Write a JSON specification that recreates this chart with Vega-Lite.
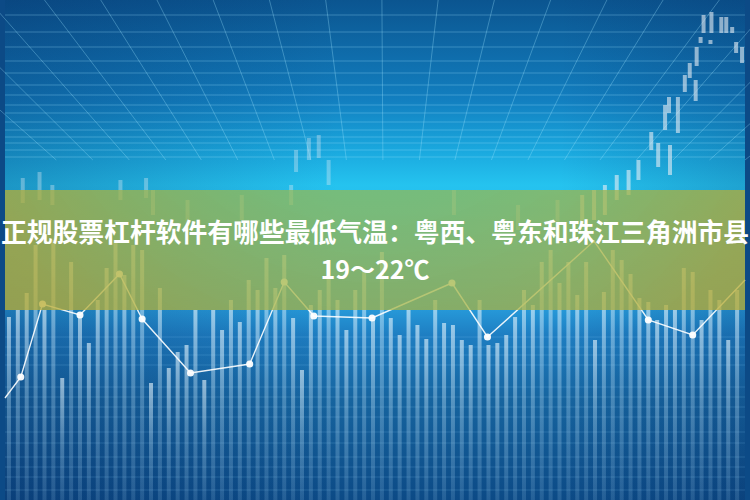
{
  "$schema": "https://vega.github.io/schema/vega-lite/v6.json",
  "width": 750,
  "height": 500,
  "padding": 0,
  "autosize": {"type": "fit", "contains": "padding"},
  "background": "#0c4a86",
  "config": {"view": {"stroke": null}},
  "datasets": {
    "hgrid": [{"y":15},{"y":32},{"y":47},{"y":61},{"y":73},{"y":85},{"y":95},{"y":105},{"y":113},{"y":122},{"y":130},{"y":137},{"y":143},{"y":150},{"y":157}],
    "fan": [
      {"xt":-131,"xb":52},{"xt":-74,"xb":89},{"xt":-17,"xb":126},{"xt":40,"xb":163},{"xt":97,"xb":199},{"xt":154,"xb":236},{"xt":211,"xb":273},{"xt":268,"xb":310},{"xt":325,"xb":346},{"xt":382,"xb":383},{"xt":439,"xb":420},{"xt":496,"xb":456},{"xt":553,"xb":493},{"xt":610,"xb":530},{"xt":667,"xb":567},{"xt":724,"xb":603},{"xt":781,"xb":640},{"xt":838,"xb":677},{"xt":895,"xb":714},{"xt":952,"xb":750}
    ],
    "lowgrid": [{"y":337},{"y":347},{"y":355},{"y":365},{"y":387},{"y":397},{"y":407},{"y":417},{"y":432},{"y":443},{"y":457},{"y":467},{"y":477},{"y":490}],
    "candles": [
      {"t":708,"hi":15,"lo":33},{"t":716,"hi":12,"lo":33},{"t":726,"hi":17,"lo":33},{"t":731,"hi":17,"lo":33},{"t":737,"hi":27,"lo":33},
      {"t":705,"hi":37,"lo":43},{"t":715,"hi":40,"lo":44},{"t":741,"hi":42,"lo":53},{"t":747,"hi":47,"lo":63},{"t":701,"hi":47,"lo":66},
      {"t":694,"hi":63,"lo":78},{"t":689,"hi":75,"lo":92},{"t":700,"hi":80,"lo":101},{"t":682,"hi":97,"lo":133},{"t":673,"hi":97,"lo":113},
      {"t":669,"hi":105,"lo":130},{"t":655,"hi":132,"lo":150},{"t":662,"hi":143,"lo":167},{"t":674,"hi":145,"lo":175},{"t":642,"hi":160,"lo":180},
      {"t":632,"hi":170,"lo":195},{"t":620,"hi":175,"lo":200},{"t":608,"hi":185,"lo":215},{"t":597,"hi":190,"lo":220},{"t":585,"hi":195,"lo":225}
    ],
    "faintcandles": [
      {"t":295,"hi":150,"lo":172},{"t":308,"hi":138,"lo":160},{"t":318,"hi":135,"lo":158},{"t":328,"hi":160,"lo":185},{"t":290,"hi":185,"lo":205},
      {"t":18,"hi":178,"lo":203},{"t":35,"hi":172,"lo":200},{"t":48,"hi":185,"lo":205},{"t":117,"hi":180,"lo":200},{"t":143,"hi":178,"lo":198},{"t":150,"hi":190,"lo":215},
      {"t":185,"hi":200,"lo":225},{"t":240,"hi":195,"lo":220},{"t":455,"hi":190,"lo":215},{"t":520,"hi":205,"lo":230},{"t":560,"hi":200,"lo":235}
    ],
    "bars": [
      {"x":4,"top":317},{"x":13,"top":310},{"x":22,"top":293},{"x":31,"top":245},{"x":40,"top":310},{"x":49,"top":240},{"x":58,"top":378},{"x":67,"top":262},{"x":76,"top":317},{"x":85,"top":343},
      {"x":94,"top":300},{"x":103,"top":268},{"x":112,"top":240},{"x":121,"top":275},{"x":130,"top":245},{"x":139,"top":250},{"x":148,"top":383},{"x":157,"top":288},{"x":166,"top":368},{"x":175,"top":352},
      {"x":184,"top":345},{"x":193,"top":310},{"x":202,"top":380},{"x":211,"top":310},{"x":220,"top":330},{"x":229,"top":300},{"x":238,"top":322},{"x":247,"top":280},{"x":256,"top":290},{"x":265,"top":258},
      {"x":274,"top":288},{"x":283,"top":255},{"x":292,"top":318},{"x":301,"top":370},{"x":310,"top":305},{"x":319,"top":290},{"x":328,"top":260},{"x":337,"top":300},{"x":346,"top":330},{"x":355,"top":290},
      {"x":364,"top":270},{"x":373,"top":320},{"x":382,"top":252},{"x":391,"top":318},{"x":400,"top":335},{"x":409,"top":310},{"x":418,"top":325},{"x":427,"top":339},{"x":436,"top":300},{"x":445,"top":323},
      {"x":454,"top":325},{"x":463,"top":340},{"x":472,"top":345},{"x":481,"top":300},{"x":490,"top":345},{"x":499,"top":343},{"x":508,"top":335},{"x":517,"top":317},{"x":526,"top":290},{"x":535,"top":305},
      {"x":544,"top":262},{"x":553,"top":250},{"x":562,"top":283},{"x":571,"top":262},{"x":580,"top":295},{"x":589,"top":262},{"x":598,"top":340},{"x":607,"top":292},{"x":616,"top":250},{"x":625,"top":260},
      {"x":634,"top":274},{"x":643,"top":298},{"x":652,"top":302},{"x":661,"top":320},{"x":670,"top":305},{"x":679,"top":310},{"x":688,"top":268},{"x":697,"top":272},{"x":706,"top":320},{"x":715,"top":290},
      {"x":724,"top":300},{"x":733,"top":340},{"x":742,"top":290}
    ],
    "line": [
      {"x":0,"y":398,"dot":false},{"x":16,"y":377,"dot":true},{"x":38,"y":304,"dot":true},{"x":76,"y":315,"dot":true},{"x":116,"y":274,"dot":true},
      {"x":139,"y":319,"dot":true},{"x":188,"y":373,"dot":true},{"x":248,"y":364,"dot":true},{"x":283,"y":282,"dot":true},{"x":313,"y":316,"dot":true},
      {"x":372,"y":318,"dot":true},{"x":453,"y":283,"dot":true},{"x":489,"y":337,"dot":true},{"x":597,"y":241,"dot":false},{"x":652,"y":320,"dot":true},
      {"x":697,"y":335,"dot":true},{"x":750,"y":280,"dot":false}
    ]
  },
  "layer": [
    {
      "data": {"values": [{}]},
      "mark": {"type": "rect", "fill": {"gradient": "linear", "x1": 0, "y1": 0, "x2": 0, "y2": 1, "stops": [
        {"offset": 0, "color": "#0b5590"},
        {"offset": 0.2, "color": "#127fc0"},
        {"offset": 0.3, "color": "#1aa8de"},
        {"offset": 0.37, "color": "#25c3ef"},
        {"offset": 0.5, "color": "#2ab0e6"},
        {"offset": 0.62, "color": "#2698d8"},
        {"offset": 0.67, "color": "#1e7ec2"},
        {"offset": 0.8, "color": "#16649f"},
        {"offset": 1, "color": "#0c4a86"}
      ]}},
      "encoding": {
        "x": {"datum": 0, "type": "quantitative", "scale": {"domain": [0, 750], "nice": false, "zero": false}, "axis": null},
        "x2": {"datum": 750},
        "y": {"datum": 0, "type": "quantitative", "scale": {"domain": [0, 500], "nice": false, "zero": false, "reverse": true}, "axis": null},
        "y2": {"datum": 500}
      }
    },
    {
      "data": {"values": [{}]},
      "mark": {"type": "rect", "fill": {"gradient": "linear", "x1": 0, "y1": 0, "x2": 1, "y2": 0, "stops": [
        {"offset": 0, "color": "rgba(5,35,90,0.28)"},
        {"offset": 0.45, "color": "rgba(5,35,90,0)"},
        {"offset": 0.75, "color": "rgba(5,35,90,0)"},
        {"offset": 1, "color": "rgba(5,35,90,0.2)"}
      ]}},
      "encoding": {
        "x": {"datum": 0, "type": "quantitative", "scale": {"domain": [0, 750], "nice": false, "zero": false}, "axis": null},
        "x2": {"datum": 750},
        "y": {"datum": 0, "type": "quantitative", "scale": {"domain": [0, 500], "nice": false, "zero": false, "reverse": true}, "axis": null},
        "y2": {"datum": 500}
      }
    },
    {
      "data": {"name": "hgrid"},
      "mark": {"type": "rule", "color": "#9fe6ff", "opacity": 0.3, "strokeWidth": 1, "clip": true},
      "encoding": {
        "x": {"datum": 0, "type": "quantitative", "scale": {"domain": [0, 750], "nice": false, "zero": false}, "axis": null},
        "x2": {"datum": 750},
        "y": {"field": "y", "type": "quantitative", "scale": {"domain": [0, 500], "nice": false, "zero": false, "reverse": true}, "axis": null}
      }
    },
    {
      "data": {"name": "fan"},
      "mark": {"type": "rule", "color": "#9fe6ff", "opacity": 0.32, "strokeWidth": 1, "clip": true},
      "encoding": {
        "x": {"field": "xt", "type": "quantitative", "scale": {"domain": [0, 750], "nice": false, "zero": false}, "axis": null},
        "x2": {"field": "xb"},
        "y": {"datum": 0, "type": "quantitative", "scale": {"domain": [0, 500], "nice": false, "zero": false, "reverse": true}, "axis": null},
        "y2": {"datum": 160}
      }
    },
    {
      "data": {"name": "lowgrid"},
      "mark": {"type": "rule", "color": "#8fd0ff", "opacity": 0.18, "strokeWidth": 1, "clip": true},
      "encoding": {
        "x": {"datum": 0, "type": "quantitative", "scale": {"domain": [0, 750], "nice": false, "zero": false}, "axis": null},
        "x2": {"datum": 750},
        "y": {"field": "y", "type": "quantitative", "scale": {"domain": [0, 500], "nice": false, "zero": false, "reverse": true}, "axis": null}
      }
    },
    {
      "data": {"name": "candles"},
      "mark": {"type": "bar", "size": 4, "color": "#e8eef5", "opacity": 0.6, "clip": true},
      "encoding": {
        "x": {"field": "t", "type": "quantitative", "scale": {"domain": [0, 750], "nice": false, "zero": false}, "axis": null},
        "y": {"field": "hi", "type": "quantitative", "scale": {"domain": [0, 500], "nice": false, "zero": false, "reverse": true}, "axis": null},
        "y2": {"field": "lo"}
      }
    },
    {
      "data": {"name": "faintcandles"},
      "mark": {"type": "bar", "size": 4, "color": "#e8eef5", "opacity": 0.35, "clip": true},
      "encoding": {
        "x": {"field": "t", "type": "quantitative", "scale": {"domain": [0, 750], "nice": false, "zero": false}, "axis": null},
        "y": {"field": "hi", "type": "quantitative", "scale": {"domain": [0, 500], "nice": false, "zero": false, "reverse": true}, "axis": null},
        "y2": {"field": "lo"}
      }
    },
    {
      "data": {"name": "bars"},
      "mark": {"type": "bar", "size": 4, "clip": true, "fill": {"gradient": "linear", "x1": 0, "y1": 0, "x2": 0, "y2": 1, "stops": [
        {"offset": 0, "color": "rgba(235,248,255,0.6)"},
        {"offset": 0.5, "color": "rgba(200,235,255,0.32)"},
        {"offset": 1, "color": "rgba(180,225,255,0.15)"}
      ]}},
      "encoding": {
        "x": {"field": "x", "type": "quantitative", "scale": {"domain": [0, 750], "nice": false, "zero": false}, "axis": null},
        "y": {"field": "top", "type": "quantitative", "scale": {"domain": [0, 500], "nice": false, "zero": false, "reverse": true}, "axis": null},
        "y2": {"datum": 500}
      }
    },
    {
      "data": {"name": "line"},
      "mark": {"type": "line", "color": "#ffffff", "opacity": 0.9, "strokeWidth": 1.4, "clip": true},
      "encoding": {
        "x": {"field": "x", "type": "quantitative", "scale": {"domain": [0, 750], "nice": false, "zero": false}, "axis": null},
        "y": {"field": "y", "type": "quantitative", "scale": {"domain": [0, 500], "nice": false, "zero": false, "reverse": true}, "axis": null}
      }
    },
    {
      "data": {"name": "line"},
      "transform": [{"filter": "datum.dot"}],
      "mark": {"type": "point", "filled": true, "color": "#ffffff", "opacity": 0.95, "size": 50, "clip": true},
      "encoding": {
        "x": {"field": "x", "type": "quantitative", "scale": {"domain": [0, 750], "nice": false, "zero": false}, "axis": null},
        "y": {"field": "y", "type": "quantitative", "scale": {"domain": [0, 500], "nice": false, "zero": false, "reverse": true}, "axis": null}
      }
    },
    {
      "data": {"values": [{}]},
      "mark": {"type": "rect", "fill": {"gradient": "radial", "x1": 0.5, "y1": 0.15, "r1": 0, "x2": 0.5, "y2": 0.15, "r2": 0.6, "stops": [
        {"offset": 0, "color": "rgba(125,195,105,0.72)"},
        {"offset": 0.5, "color": "rgba(150,186,80,0.73)"},
        {"offset": 1, "color": "rgba(185,172,50,0.76)"}
      ]}},
      "encoding": {
        "x": {"datum": 0, "type": "quantitative", "scale": {"domain": [0, 750], "nice": false, "zero": false}, "axis": null},
        "x2": {"datum": 750},
        "y": {"datum": 190, "type": "quantitative", "scale": {"domain": [0, 500], "nice": false, "zero": false, "reverse": true}, "axis": null},
        "y2": {"datum": 310}
      }
    },
    {
      "data": {"values": [{"label": "正规股票杠杆软件有哪些最低气温：粤西、粤东和珠江三角洲市县"}]},
      "mark": {"type": "text", "font": "Noto Sans CJK SC", "fontSize": 25.8, "fontWeight": "bold", "color": "#ffffff", "align": "center", "baseline": "middle"},
      "encoding": {
        "x": {"datum": 375, "type": "quantitative", "scale": {"domain": [0, 750], "nice": false, "zero": false}, "axis": null},
        "y": {"datum": 234, "type": "quantitative", "scale": {"domain": [0, 500], "nice": false, "zero": false, "reverse": true}, "axis": null},
        "text": {"field": "label"}
      }
    },
    {
      "data": {"values": [{"label": "19～22℃"}]},
      "mark": {"type": "text", "font": "Noto Sans CJK SC", "fontSize": 25, "fontWeight": "bold", "color": "#ffffff", "align": "center", "baseline": "middle"},
      "encoding": {
        "x": {"datum": 375, "type": "quantitative", "scale": {"domain": [0, 750], "nice": false, "zero": false}, "axis": null},
        "y": {"datum": 271, "type": "quantitative", "scale": {"domain": [0, 500], "nice": false, "zero": false, "reverse": true}, "axis": null},
        "text": {"field": "label"}
      }
    }
  ]
}
